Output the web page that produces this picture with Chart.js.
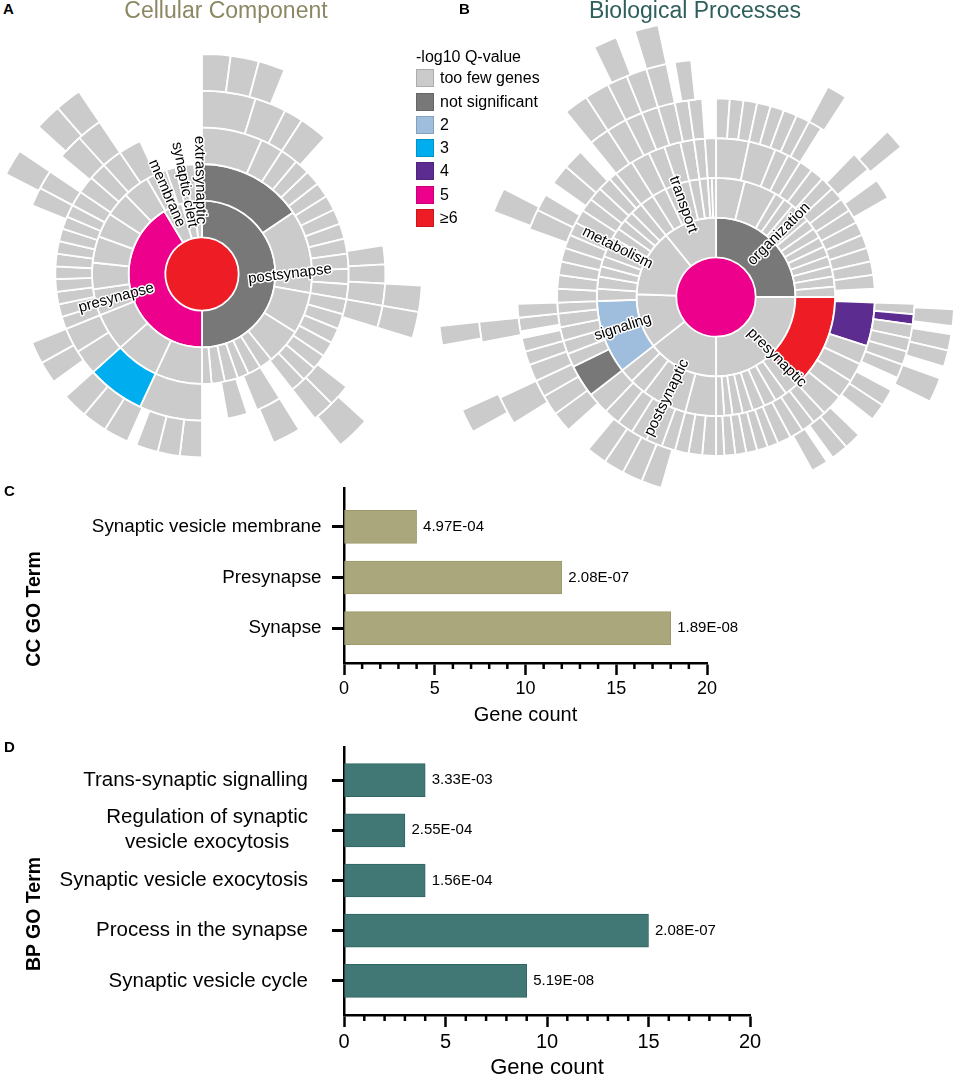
<!DOCTYPE html>
<html lang="en">
<head>
  <meta charset="UTF-8">
  <meta name="viewport" content="width=device-width, initial-scale=1.0">
  <title>Synaptic GO enrichment</title>
  <script src="https://cdn.jsdelivr.net/npm/chart.js"></script>
  <style>
    body { margin: 0; }
    #page { position: relative; width: 957px; height: 1077px; overflow: hidden; background: #fff;
            font-family: "Liberation Sans", Arial, sans-serif; color: #000; }
    .box { position: absolute; }
    .letter { position: absolute; font-weight: bold; font-size: 15px; line-height: 1; }
    .title { position: absolute; top: -1px; font-size: 23px; line-height: 1; white-space: nowrap; transform: translateX(-50%); }
    .goTerm { position: absolute; font-weight: bold; font-size: 19.5px; line-height: 1; white-space: nowrap;
              transform: translate(-50%, -50%) rotate(-90deg); }
    #legend { position: absolute; left: 416px; top: 47px; font-size: 16px; }
    #legend .head { line-height: 20px; margin-bottom: 2.3px; white-space: nowrap; }
    #legend .row { display: flex; align-items: center; height: 18px; margin-bottom: 5.3px; white-space: nowrap; }
    #legend .sw { width: 18px; height: 18px; box-sizing: border-box; border: 1px solid rgba(0,0,0,0.15); margin-right: 6px; }
  </style>
</head>
<body>
<div id="page">
  <div class="box" style="left:-28px; top:44px; width:460px; height:460px;"><canvas id="ccSun"></canvas></div>
  <div class="box" style="left:426px; top:7px; width:580px; height:580px;"><canvas id="bpSun"></canvas></div>
  <div class="box" style="left:0; top:470px; width:957px; height:270px;"><canvas id="ccBars"></canvas></div>
  <div class="box" style="left:0; top:740px; width:957px; height:350px;"><canvas id="bpBars"></canvas></div>

  <div class="letter" style="left:3px; top:1px;">A</div>
  <div class="letter" style="left:459px; top:1px;">B</div>
  <div class="letter" style="left:4px; top:483px;">C</div>
  <div class="letter" style="left:4px; top:739px;">D</div>
  <div class="title" style="left:226px; color:#8c8864;">Cellular Component</div>
  <div class="title" style="left:695px; color:#2e5f5c;">Biological Processes</div>
  <div class="goTerm" style="left:33.5px; top:608.5px;">CC GO Term</div>
  <div class="goTerm" style="left:33.5px; top:914px;">BP GO Term</div>
  <div id="legend"><div class="head">-log10 Q-value</div></div>
</div>

<script>
  // -log10 Q-value classes, index 0 = empty slot in a ring
  const levelNames = ['', 'too few genes', 'not significant', '2', '3', '4', '5', '≥6'];
  const levelColors = ['rgba(0,0,0,0)', '#cbcbcb', '#787878', '#9fbedd', '#00aeef', '#5d2c91', '#ec008c', '#ee1c25'];

  // Cellular component sunburst, centre first (spans in degrees, clockwise from 12 o'clock)
  const ccRing1 = [360];
  const ccLevel1 = [7];
  const ccRing2 = [180, 149, 15, 10, 6];
  const ccLevel2 = [2, 6, 1, 1, 1];
  const ccNames2 = ['postsynapse', 'presynapse', 'membrane', 'synaptic cleft', 'extrasynaptic'];
  const ccRing3 = [56, 44, 22, 19, 7, 7, 6, 7, 7, 5, 25, 23, 20, 14, 14, 14, 13, 13, 14, 6, 5, 5, 5, 5, 4];
  const ccLevel3 = [2, 1, 1, 1, 1, 1, 1, 1, 1, 1, 1, 1, 1, 1, 1, 1, 1, 1, 1, 1, 1, 1, 1, 1, 1];
  const ccRing4 = [24, 9, 7, 6, 6, 6, 6, 6, 6, 6, 6, 6, 6, 6, 6, 6, 6, 6, 6, 6, 6, 10, 4, 8, 10,
                   25, 23, 10, 10, 5, 5, 5, 5, 5, 5, 5, 5, 5, 5, 6, 7, 7, 8, 9, 25];
  const ccLevel4 = [1, 1, 1, 1, 1, 1, 1, 1, 1, 1, 1, 1, 1, 1, 1, 1, 1, 1, 1, 1, 0, 1, 0, 1, 0,
                    1, 4, 1, 1, 1, 1, 1, 1, 1, 1, 1, 1, 1, 1, 1, 1, 1, 1, 1, 0];
  const ccRing5 = [17, 10, 6, 9, 39, 6, 6, 7, 7, 21, 7, 7, 6, 9, 23, 7, 7, 7, 3, 8, 8, 8, 6, 7, 7, 44, 6, 6, 6, 8, 8, 34];
  const ccLevel5 = [1, 1, 1, 1, 0, 1, 1, 1, 1, 0, 1, 1, 0, 1, 0, 1, 1, 1, 0, 1, 1, 1, 0, 1, 1, 0, 1, 1, 0, 1, 1, 0];
  const ccRing6 = [7.5, 7.5, 7, 71, 7, 7, 25, 9, 156, 7, 8, 7, 7, 34];
  const ccLevel6 = [1, 1, 1, 0, 1, 1, 0, 1, 0, 1, 0, 1, 1, 0];

  // Biological process sunburst
  const bpRing1 = [360];
  const bpLevel1 = [6];
  const bpRing2 = [90, 90, 52, 40, 49, 39];
  const bpLevel2 = [2, 1, 1, 1, 1, 1];
  const bpNames2 = ['organization', 'presynaptic', 'postsynaptic', 'signaling', 'metabolism', 'transport'];
  const bpRing3 = [14, 16, 5, 5, 5, 5, 5, 5, 5, 5, 5, 5, 5, 5, 47, 7, 6, 6, 6, 5, 5, 4, 4,
                   15, 12, 10, 8, 7, 36, 6, 6, 5, 5, 5, 5, 5, 5, 5, 6, 7, 7, 6, 6, 5, 4, 2, 2];
  const bpLevel3 = [1, 1, 1, 1, 1, 1, 1, 1, 1, 1, 1, 1, 1, 1, 7, 1, 1, 1, 1, 1, 1, 1, 1,
                    1, 1, 1, 1, 1, 3, 1, 1, 1, 1, 1, 1, 1, 1, 1, 1, 1, 1, 1, 1, 1, 1, 1, 1];
  const bpRing4 = [12, 10, 5, 5, 5, 5, 5, 5, 5, 5, 5, 5, 5, 5, 5, 5, 16, 7, 7, 7, 8,
                   5, 5, 5, 5, 4, 4, 4, 4, 4, 3, 5, 5, 5, 5, 6, 6, 6, 6, 8, 12, 5, 5, 5, 5, 4,
                   5, 5, 5, 5, 5, 5, 5, 5, 5, 5, 3, 7, 7, 6, 6, 5, 4, 4];
  const bpLevel4 = [1, 1, 1, 1, 1, 1, 1, 1, 1, 1, 1, 1, 1, 1, 1, 0, 5, 1, 1, 1, 1,
                    1, 1, 1, 1, 1, 1, 1, 1, 1, 1, 1, 1, 1, 1, 1, 1, 1, 1, 1, 2, 1, 1, 1, 1, 1,
                    1, 1, 1, 1, 1, 1, 1, 1, 1, 1, 1, 1, 1, 1, 1, 1, 1, 1];
  const bpRing5 = [4, 4, 4, 4, 4, 4, 4, 4, 12, 6, 4, 6, 32, 3, 3, 4, 4, 4, 4, 4, 5, 5, 6, 5, 5, 2, 5, 45,
                   6, 6, 6, 6, 8, 6, 6, 5, 5, 4, 4, 2, 4, 4, 22, 6, 5, 4, 6, 6, 4, 6, 6, 5, 5, 5, 4, 4, 4];
  const bpLevel5 = [1, 1, 1, 1, 1, 1, 1, 1, 0, 1, 0, 1, 0, 1, 5, 1, 1, 1, 1, 0, 1, 1, 0, 1, 1, 0, 1, 0,
                    1, 1, 1, 1, 0, 1, 1, 1, 1, 1, 1, 0, 1, 1, 0, 1, 1, 0, 1, 1, 0, 1, 1, 1, 1, 1, 1, 1, 0];
  const bpRing6 = [28, 5, 13, 5, 42, 4, 2, 4, 4, 3, 6, 122, 7, 14, 5, 27, 6, 24, 6, 6, 5, 5, 5, 2, 4, 6];
  const bpLevel6 = [0, 1, 0, 1, 0, 1, 0, 1, 1, 0, 1, 0, 1, 0, 1, 0, 1, 0, 1, 1, 1, 1, 1, 0, 1, 0];
  const bpRing7 = [241, 5, 14, 4, 70, 5, 4, 5, 12];
  const bpLevel7 = [0, 1, 0, 1, 0, 1, 0, 1, 0];

  // Bar panels
  const ccTerms = ['Synaptic vesicle membrane', 'Presynapse', 'Synapse'];
  const ccCounts = [4, 12, 18];
  const ccQvals = ['4.97E-04', '2.08E-07', '1.89E-08'];
  const bpTerms = ['Trans-synaptic signalling', ['Regulation of synaptic', 'vesicle exocytosis'],
                   'Synaptic vesicle exocytosis', 'Process in the synapse', 'Synaptic vesicle cycle'];
  const bpCounts = [4, 3, 4, 15, 9];
  const bpQvals = ['3.33E-03', '2.55E-04', '1.56E-04', '2.08E-07', '5.19E-08'];
  const countTicks = [0, 5, 10, 15, 20];

  const FONT = '"Liberation Sans", Arial, sans-serif';

  // legend
  const legend = document.getElementById('legend');
  levelNames.slice(1).forEach((name, i) => {
    const row = document.createElement('div');
    row.className = 'row';
    row.innerHTML = `<span class="sw" style="background:${levelColors[i + 1]}"></span><span>${name}</span>`;
    legend.appendChild(row);
  });

  // ring names drawn along the radius of their segment
  function makeArcLabels(items) {
    return {
      id: 'arcLabels',
      afterDatasetsDraw(chart) {
        const ctx = chart.ctx;
        const n = chart.data.datasets.length;
        ctx.save();
        ctx.font = '15px ' + FONT;
        ctx.textAlign = 'center';
        ctx.textBaseline = 'middle';
        ctx.lineJoin = 'round';
        ctx.lineWidth = 3;
        ctx.strokeStyle = '#fff';
        ctx.fillStyle = '#000';
        items.forEach(lab => {
          const arc = chart.getDatasetMeta(n - 1 - lab.ring).data[lab.seg];
          const p = arc.getProps(['x', 'y', 'startAngle', 'endAngle'], true);
          const a = (p.startAngle + p.endAngle) / 2 + (lab.shift || 0) * Math.PI / 180;
          const fromTop = a + Math.PI / 2;
          let rot = fromTop < Math.PI ? a : a + Math.PI;
          rot += (lab.tilt || 0) * Math.PI / 180;
          ctx.save();
          ctx.translate(p.x + lab.r * Math.cos(a), p.y + lab.r * Math.sin(a));
          ctx.rotate(rot);
          ctx.strokeText(lab.text, 0, 0);
          ctx.fillText(lab.text, 0, 0);
          ctx.restore();
        });
        ctx.restore();
      }
    };
  }

  function sunburst(id, rings, labels, radius) {
    // doughnut datasets go outermost first
    const datasets = rings.slice().reverse().map(([spans, levels]) => ({
      data: spans,
      backgroundColor: levels.map(l => levelColors[l]),
      borderColor: '#fff',
      borderWidth: levels.map(l => (l === 0 || spans.length === 1) ? 0 : 1.8)
    }));
    return new Chart(document.getElementById(id), {
      type: 'doughnut',
      data: { datasets },
      options: {
        responsive: true,
        maintainAspectRatio: false,
        animation: false,
        events: [],
        cutout: 0,
        radius: radius,
        spacing: 0,
        plugins: { legend: { display: false }, tooltip: { enabled: false } }
      },
      plugins: [makeArcLabels(labels)]
    });
  }

  sunburst('ccSun',
    [[ccRing1, ccLevel1], [ccRing2, ccLevel2], [ccRing3, ccLevel3], [ccRing4, ccLevel4], [ccRing5, ccLevel5], [ccRing6, ccLevel6]],
    [
      { ring: 1, seg: 0, text: ccNames2[0], r: 88, tilt: -7 },
      { ring: 1, seg: 1, text: ccNames2[1], r: 89 },
      { ring: 1, seg: 2, text: ccNames2[2], r: 88 },
      { ring: 1, seg: 3, text: ccNames2[3], r: 91 },
      { ring: 1, seg: 4, text: ccNames2[4], r: 94, shift: 1.8 }
    ], 220);

  sunburst('bpSun',
    [[bpRing1, bpLevel1], [bpRing2, bpLevel2], [bpRing3, bpLevel3], [bpRing4, bpLevel4], [bpRing5, bpLevel5], [bpRing6, bpLevel6], [bpRing7, bpLevel7]],
    [
      { ring: 1, seg: 0, text: bpNames2[0], r: 89 },
      { ring: 1, seg: 1, text: bpNames2[1], r: 86 },
      { ring: 1, seg: 2, text: bpNames2[2], r: 112 },
      { ring: 1, seg: 3, text: bpNames2[3], r: 98 },
      { ring: 1, seg: 4, text: bpNames2[4], r: 110 },
      { ring: 1, seg: 5, text: bpNames2[5], r: 98 }
    ], 278);

  // term names, minor ticks and Q-values for the bar panels
  function makeBarExtras(terms, qvals, termSize, termPad) {
    return {
      id: 'barExtras',
      afterDraw(chart) {
        const ctx = chart.ctx;
        const xs = chart.scales.x, ys = chart.scales.y;
        ctx.save();
        ctx.strokeStyle = '#000';
        ctx.lineWidth = 2.5;
        ctx.beginPath();
        for (let v = xs.min + 1; v < xs.max; v++) {
          if (v % 5 === 0) continue;
          const px = xs.getPixelForValue(v);
          ctx.moveTo(px, xs.top);
          ctx.lineTo(px, xs.top + 6);
        }
        ctx.stroke();

        ctx.fillStyle = '#000';
        ctx.font = termSize + 'px ' + FONT;
        ctx.textBaseline = 'middle';
        const right = ys.right - 12 - termPad;
        terms.forEach((t, i) => {
          const py = ys.getPixelForValue(i);
          if (!Array.isArray(t)) {
            ctx.textAlign = 'right';
            ctx.fillText(t, right, py);
            return;
          }
          const w = Math.max(...t.map(s => ctx.measureText(s).width));
          const lh = termSize * 1.22;
          ctx.textAlign = 'center';
          t.forEach((s, k) => ctx.fillText(s, right - w / 2, py + (k - (t.length - 1) / 2) * lh));
        });

        ctx.font = '15px ' + FONT;
        ctx.textAlign = 'left';
        chart.getDatasetMeta(0).data.forEach((bar, i) => ctx.fillText(qvals[i], bar.x + 6.5, bar.y));
        ctx.restore();
      }
    };
  }

  function barChart(id, terms, counts, qvals, o) {
    return new Chart(document.getElementById(id), {
      type: 'bar',
      data: {
        datasets: [{
          data: counts.map((v, i) => ({ x: v, y: i })),
          backgroundColor: o.fill,
          borderColor: o.edge,
          borderWidth: 1,
          borderSkipped: false,
          barThickness: 33
        }]
      },
      options: {
        indexAxis: 'y',
        responsive: true,
        maintainAspectRatio: false,
        animation: false,
        events: [],
        layout: { padding: o.padding },
        plugins: { legend: { display: false }, tooltip: { enabled: false } },
        scales: {
          x: {
            type: 'linear', min: 0, max: 20,
            afterBuildTicks: s => { s.ticks = countTicks.map(v => ({ value: v })); },
            afterFit: s => { s.height = o.xHeight; },
            grid: { drawOnChartArea: false, tickLength: 12, tickWidth: 2.5, tickColor: '#000' },
            border: { color: '#000', width: 2.5 },
            ticks: { color: '#000', padding: 3, maxRotation: 0, font: { size: o.tickSize, family: FONT } },
            title: { display: true, text: 'Gene count', color: '#000',
                     font: { size: o.titleSize, family: FONT }, padding: { top: 0, bottom: o.titlePad } }
          },
          y: {
            type: 'linear', reverse: true, min: o.yMin, max: o.yMax, offset: false,
            afterBuildTicks: s => { s.ticks = terms.map((t, i) => ({ value: i })); },
            afterFit: s => { s.width = 344; },
            grid: { offset: false, drawOnChartArea: false, tickLength: 12, tickWidth: 3, tickColor: '#000' },
            border: { color: '#000', width: 2.5 },
            ticks: { display: false }
          }
        }
      },
      plugins: [makeBarExtras(terms, qvals, o.termSize, o.termPad)]
    });
  }

  barChart('ccBars', ccTerms, ccCounts, ccQvals, {
    fill: '#a9a77b', edge: '#9c9a6c',
    padding: { top: 18, right: 250, bottom: 0, left: 0 },
    xHeight: 77, tickSize: 18, titleSize: 20, titlePad: 13,
    yMin: -0.77, yMax: 2.69, termSize: 18.8, termPad: 10.5
  });

  barChart('bpBars', bpTerms, bpCounts, bpQvals, {
    fill: '#417876', edge: '#2f6562',
    padding: { top: 7, right: 207, bottom: 0, left: 0 },
    xHeight: 75, tickSize: 20, titleSize: 22, titlePad: 8.8,
    yMin: -0.66, yMax: 4.68, termSize: 20.5, termPad: 24
  });
</script>
</body>
</html>
